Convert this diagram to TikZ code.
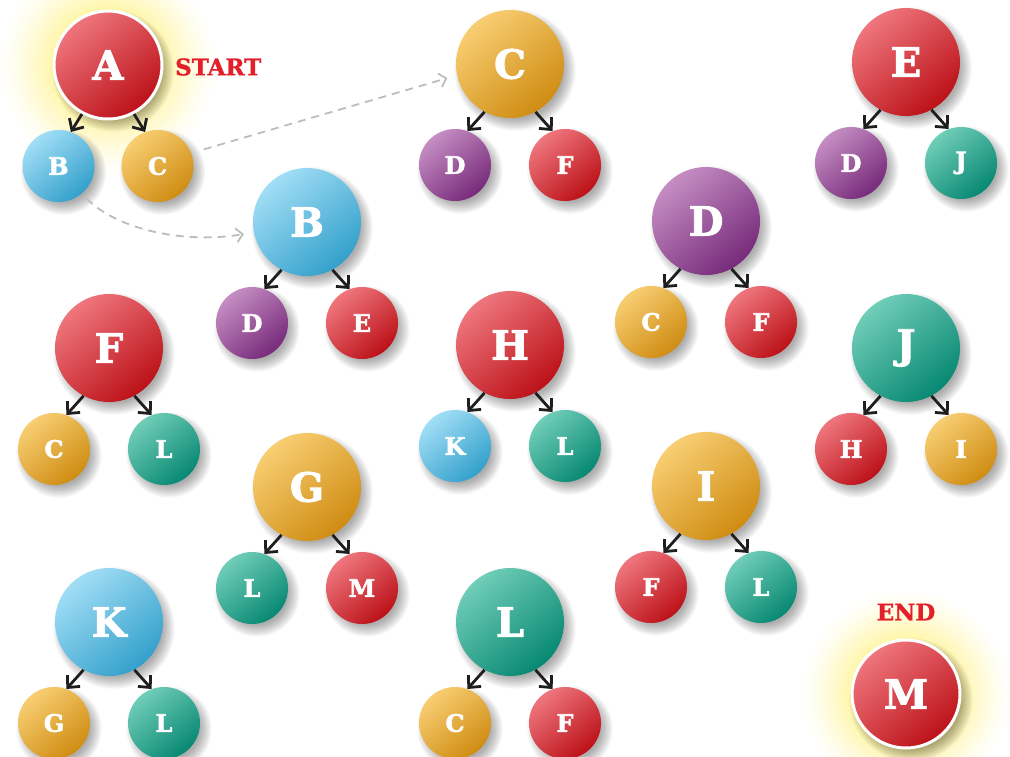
\documentclass[tikz,border=0pt]{standalone}
\usepackage{fontspec}
\setmainfont{DejaVu Serif}
\newfontfamily\heavy{DejaVu Serif}[BoldFeatures={FakeBold=2.2}]
\newfontfamily\heavylab{DejaVu Serif}[BoldFeatures={FakeBold=1.0}]
\usetikzlibrary{arrows.meta}

\definecolor{redL}{HTML}{EF767D}\definecolor{redM}{HTML}{E1222A}\definecolor{redD}{HTML}{BC1118}
\definecolor{orL}{HTML}{F8CE72}\definecolor{orM}{HTML}{EDAA2A}\definecolor{orD}{HTML}{CF8C12}
\definecolor{blL}{HTML}{A2DEF6}\definecolor{blM}{HTML}{52BDE4}\definecolor{blD}{HTML}{33A0CB}
\definecolor{puL}{HTML}{C58EC3}\definecolor{puM}{HTML}{9B4C9B}\definecolor{puD}{HTML}{772A7A}
\definecolor{teL}{HTML}{70CDB8}\definecolor{teM}{HTML}{20A88F}\definecolor{teD}{HTML}{078872}
\definecolor{glowy}{RGB}{255,246,170}
\definecolor{labred}{HTML}{E3202A}
\definecolor{dashg}{HTML}{BDBDBD}
\definecolor{edgek}{HTML}{1E1E1E}

\tikzset{
  ball/.style={circle, inner sep=0pt, text=white},
  bignode/.style={ball, minimum size=108pt, font=\heavy\bfseries\fontsize{40}{40}\selectfont},
  smallnode/.style={ball, minimum size=72pt, font=\heavy\bfseries\fontsize{24}{24}\selectfont},
  ring/.style={draw=white, line width=3pt},
  cr/.style={top color=redL, middle color=redM, bottom color=redD, shading angle=40},
  co/.style={top color=orL, middle color=orM, bottom color=orD, shading angle=40},
  cb/.style={top color=blL, middle color=blM, bottom color=blD, shading angle=40},
  cp/.style={top color=puL, middle color=puM, bottom color=puD, shading angle=40},
  ct/.style={top color=teL, middle color=teM, bottom color=teD, shading angle=40},
  edge/.style={draw=edgek, line width=2.8pt, -{Straight Barb[length=9pt,width=17pt]}},
  dashedge/.style={draw=dashg, line width=1.8pt, dash pattern=on 8pt off 6pt, -{Straight Barb[length=6.5pt,width=14pt]}},
  lab/.style={text=labred, font=\heavylab\bfseries\fontsize{23}{23}\selectfont, inner sep=0pt},
  shadowfill/.style={fill=black, fill opacity=0.035}
}

% soft drop shadow: x, y, radius
\newcommand\softshadow[3]{%
  \foreach \k in {0,...,9} {\fill[shadowfill] (#1+5,#2+6) circle (#3-5+1.3*\k);}%
}
% glow: coordinate name, outer radius, inner radius
\newcommand\glowat[3]{%
  \foreach \k in {0,...,30} {%
    \pgfmathtruncatemacro\p{100*(\k/30)^1.3}%
    \fill[glowy!\p!white] (#1) circle ({#2-(#2-#3)*\k/30});}%
}

\def\dx{55}
\newcommand\tree[9]{%
  \softshadow{#2}{#3}{54}%
  \softshadow{#2-\dx}{#3+101}{36}%
  \softshadow{#2+\dx}{#3+101}{36}%
  \node[bignode,#4] (#1) at (#2,#3) {#5};
  \node[smallnode,#6] (#1l) at (#2-\dx,#3+101) {#7};
  \node[smallnode,#8] (#1r) at (#2+\dx,#3+101) {#9};
  \draw[edge] (#1.-118) -- (#1l.70);
  \draw[edge] (#1.-62) -- (#1r.110);
}

\begin{document}
\begin{tikzpicture}[x=1pt,y=-1pt]
\fill[white] (0,0) rectangle (1010,756);
\useasboundingbox (0,0) rectangle (1010,756);

\coordinate (gA) at (108,65);
\coordinate (gM) at (906,694);
\glowat{gA}{110}{56}
\glowat{gM}{106}{56}

\def\dx{49.5}
\tree{tA}{108}{65}{cr,ring}{A}{cb}{B}{co}{C}
\def\dx{55}
\tree{tC}{510}{64}{co}{C}{cp}{D}{cr}{F}
\tree{tE}{906}{62}{cr}{E}{cp}{D}{ct}{J}
\tree{tB}{307}{222}{cb}{B}{cp}{D}{cr}{E}
\tree{tD}{706}{221}{cp}{D}{co}{C}{cr}{F}
\tree{tF}{109}{348}{cr}{F}{co}{C}{ct}{L}
\tree{tH}{510}{345}{cr}{H}{cb}{K}{ct}{L}
\tree{tJ}{906}{348}{ct}{J}{cr}{H}{co}{I}
\tree{tG}{307}{487}{co}{G}{ct}{L}{cr}{M}
\tree{tI}{706}{486}{co}{I}{cr}{F}{ct}{L}
\tree{tK}{109}{622}{cb}{K}{co}{G}{ct}{L}
\tree{tL}{510}{622}{ct}{L}{co}{C}{cr}{F}

\softshadow{906}{694}{55}
\node[bignode,cr,ring] (tM) at (906,694) {M};

\node[lab, anchor=west] (start) at (175,67) {START};
\node[lab] (end) at (906,612) {END};

\draw[dashedge, shorten <=13pt, shorten >=10pt] (tAr.21) -- (tC.192.5);
\draw[dashedge, shorten <=7pt, shorten >=10pt] (tAl.-50) .. controls (118,230) and (185,244) .. (tB.191);
\end{tikzpicture}
\end{document}
